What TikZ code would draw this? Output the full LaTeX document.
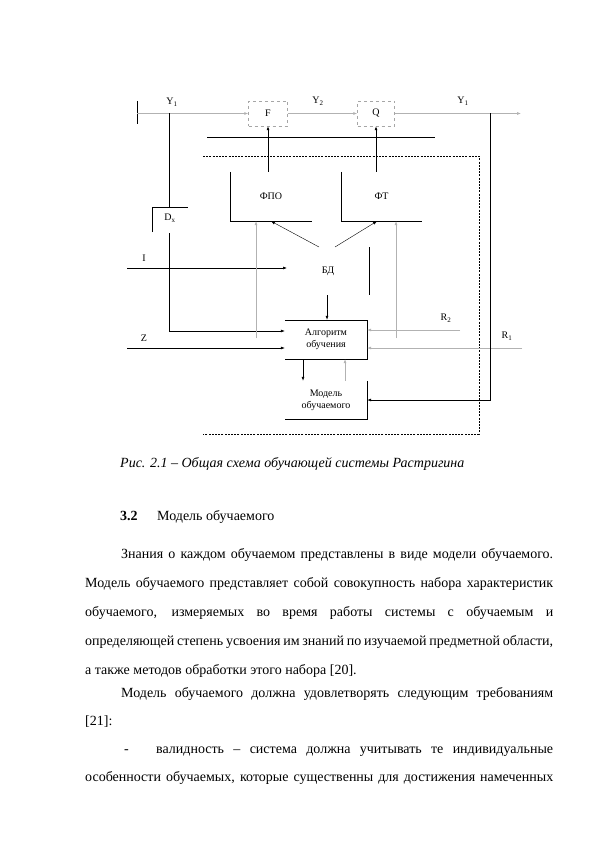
\documentclass[tikz,border=0pt]{standalone}
\usepackage{fontspec}
\setmainfont{Liberation Serif}
\usetikzlibrary{arrows.meta}
\begin{document}
\begin{tikzpicture}[x=1pt,y=-1pt,
  ln/.style={black, line width=0.6pt},
  gl/.style={black!30, line width=0.6pt},
  thin line/.style={black, line width=0.4pt},
  arr/.style={-{Latex[length=4pt,width=3pt]}},
  lbl/.style={font=\fontsize{10}{12}\selectfont, inner sep=0pt},
  dbox/.style={draw=black!35, dashed, line width=0.5pt, font=\fontsize{10}{12}\selectfont, inner sep=0pt},
  obox/.style={draw=none, inner sep=0pt, font=\fontsize{10}{12}\selectfont, align=center},
  bodytext/.style={anchor=base west, inner sep=0pt, font=\fontsize{14}{16}\selectfont}
]
\useasboundingbox[fill=white] (0,0) rectangle (595,842);

% blocks
\node[dbox, minimum width=39pt, minimum height=25pt] (F) at (268,113.5) {F};
\node[dbox, minimum width=37pt, minimum height=25pt] (Q) at (376,113.5) {Q};
\node[obox, minimum width=82pt, minimum height=49pt] (fpo) at (271,196.5) {ФПО};
\node[obox, minimum width=81pt, minimum height=49pt] (ft) at (381.5,196.5) {ФТ};
\node[obox] (bd) at (328,271) {БД};
\node[obox, minimum width=82pt, minimum height=39pt] (alg) at (326,339.5) {Алгоритм\\обучения};
\node[obox, minimum width=82pt, minimum height=38pt] (mod) at (326,400) {Модель\\обучаемого};
\node[lbl] (dx) at (170,218) {D\textsubscript{x}};

% labels
\node[lbl] (ly1) at (172,102) {Y\textsubscript{1}};
\node[lbl] (ly2) at (318,101) {Y\textsubscript{2}};
\node[lbl] (ly3) at (463,101) {Y\textsubscript{1}};
\node[lbl] (li) at (144,258) {I};
\node[lbl] (lz) at (144,338) {Z};
\node[lbl] (lr2) at (446,318) {R\textsubscript{2}};
\node[lbl] (lr1) at (507,336) {R\textsubscript{1}};

% coordinates
\coordinate (start) at (137,113.5);
\coordinate (j1) at (169,113.5);
\coordinate (outend) at (521,113.5);
\coordinate (j2) at (490,113.5);
\coordinate (iin) at (127,268);
\coordinate (iend) at (287,268);
\coordinate (zin) at (127,348);
\coordinate (r2in) at (460,330);
\coordinate (r1in) at (522,348);

% open block borders
\draw[ln] (fpo.north west) -- (fpo.south west) -- (fpo.south east);
\draw[ln] (ft.north west) -- (ft.south west) -- (ft.south east);
\draw[ln] (alg.north west) -- (alg.north east) -- (alg.south east) -- (alg.south west);
\draw[ln] (mod.north east) -- (mod.south east) -- (mod.south west);

% main chain
\draw[ln] (137,101) -- (137,124);
\draw[gl, arr] (start) -- (F.west);
\draw[gl, arr] (F.east) -- (Q.west);
\draw[gl, arr] (Q.east) -- (outend);
\draw[ln, arr] (F.south |- fpo.north) -- (F.south);
\draw[ln, arr] (Q.south |- ft.north) -- (Q.south);
\draw[ln] (207,137) -- (435,137);
\draw[thin line, dash pattern=on 2pt off 1.2pt] (203,156) -- (479,156) -- (479,434) -- (203,434);

% Dx
\draw[ln] (j1) -- (169,207);
\draw[ln] (152,232) -- (152,207) -- (188,207);
\draw[ln, arr] (169,233) -- (169,331) -- (alg.west |- 0,331);

% inputs
\draw[ln, arr] (iin) -- (iend);
\draw[ln, arr] (zin) -- (alg.west |- zin);
\draw[gl, arr] (r2in) -- (alg.east |- r2in);
\draw[gl, arr] (r1in) -- (alg.east |- r1in);

% БД links
\draw[thin line, arr] (319,247) -- (fpo.south);
\draw[thin line, arr] (335,247) -- (ft.south -| 377,0);
\draw[gl, arr] (256,338) -- (fpo.south -| 256,0);
\draw[gl, arr] (396,338) -- (ft.south -| 396,0);
\draw[ln, arr] (327,295) -- (alg.north -| 327,0);
\draw[ln] (369,247) -- (369,295);

% alg <-> model
\draw[ln, arr] (alg.south -| 303,0) -- (mod.north -| 303,0);
\draw[gl, arr] (mod.north -| 345,0) -- (alg.south -| 345,0);

% feedback
\draw[ln, arr] (j2) -- (490,400) -- (mod.east |- 0,400);

% caption and text
\node[bodytext, font=\fontsize{14}{16}\selectfont\itshape] (cap) at (120,467) {Рис. 2.1 – Общая схема обучающей системы Растригина};
\node[bodytext, font=\fontsize{14}{16}\selectfont\bfseries] (secn) at (120,520) {3.2};
\node[bodytext] (sect) at (157,520) {Модель обучаемого};

\node[bodytext] (t1) at (121,558) {\makebox[432pt][s]{Знания о каждом обучаемом представлены в виде модели обучаемого.}};
\node[bodytext] (t2) at (85,587) {\makebox[468pt][s]{Модель обучаемого представляет собой совокупность набора характеристик}};
\node[bodytext] (t3) at (85,616) {\makebox[468pt][s]{обучаемого, измеряемых во время работы системы с обучаемым и}};
\node[bodytext] (t4) at (85,645) {\makebox[468pt][s]{определяющей степень усвоения им знаний по изучаемой предметной области,}};
\node[bodytext] (t5) at (85,674) {а также методов обработки этого набора [20].};
\node[bodytext] (t6) at (121,697) {\makebox[432pt][s]{Модель обучаемого должна удовлетворять следующим требованиям}};
\node[bodytext] (t7) at (85,725) {[21]:};
\node[bodytext] (t8a) at (124,753) {-};
\node[bodytext] (t8) at (156,753) {\makebox[397pt][s]{валидность – система должна учитывать те индивидуальные}};
\node[bodytext] (t9) at (85,781) {\makebox[468pt][s]{особенности обучаемых, которые существенны для достижения намеченных}};
\end{tikzpicture}
\end{document}
